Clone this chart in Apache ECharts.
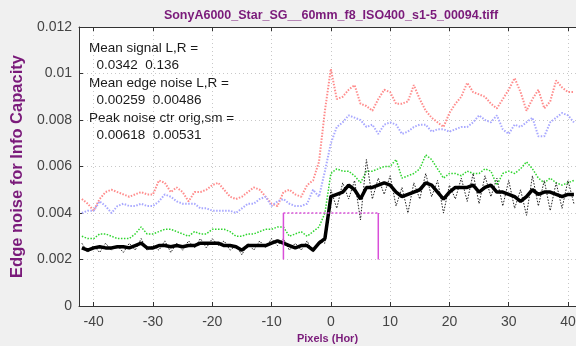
<!DOCTYPE html>
<html>
<head>
<meta charset="utf-8">
<script src="https://cdn.jsdelivr.net/npm/echarts@6/dist/echarts.min.js"></script>
<style>
  html, body { margin: 0; padding: 0; background: #f0f0f0; }
  #chart { width: 576px; height: 346px; }
</style>
</head>
<body>
<div id="chart"></div>
<script>
// pixel positions: one sample per pixel, starting at -42
const pixelStart = -42
const pixelStep = 1

const xTicks = [-40, -30, -20, -10, 0, 10, 20, 30, 40]

// upper (light red) noise curve
const redNoise = [
  0.0046, 0.0044, 0.0041, 0.0046, 0.0049, 0.0050, 0.0049, 0.0048, 0.0047, 0.0048,
  0.0049, 0.0048, 0.0048, 0.0054, 0.0053, 0.0049, 0.0051, 0.0049, 0.0045, 0.0049,
  0.0049, 0.0050, 0.0052, 0.0053, 0.0050, 0.0047, 0.0046, 0.0047, 0.0049, 0.0051,
  0.0050, 0.0047, 0.0044, 0.0043, 0.0049, 0.0050, 0.0048, 0.0047, 0.0052, 0.0054,
  0.0062, 0.0084, 0.0102, 0.0089, 0.0090, 0.0093, 0.0095, 0.0087, 0.0086, 0.0084,
  0.0089, 0.0093, 0.0092, 0.0087, 0.0087, 0.0088, 0.0095, 0.0089, 0.0084, 0.0081,
  0.0079, 0.0077, 0.0083, 0.0087, 0.0090, 0.0096, 0.0092, 0.0091, 0.0090, 0.0087,
  0.0085, 0.0089, 0.0093, 0.0098, 0.0092, 0.0084, 0.0089, 0.0093, 0.0085, 0.0088,
  0.0097, 0.0094, 0.0092, 0.0092
]

// light blue noise curve
const blueNoise = [
  0.0040, 0.0041, 0.0041, 0.0045, 0.0043, 0.0040, 0.0043, 0.0044, 0.0043, 0.0043,
  0.0044, 0.0043, 0.0043, 0.0045, 0.0048, 0.0047, 0.0045, 0.0044, 0.0044, 0.0044,
  0.0042, 0.0042, 0.0041, 0.0041, 0.0041, 0.0041, 0.0040, 0.0042, 0.0044, 0.0044,
  0.0046, 0.0047, 0.0043, 0.0045, 0.0046, 0.0044, 0.0043, 0.0043, 0.0044, 0.0050,
  0.0047, 0.0058, 0.0070, 0.0077, 0.0079, 0.0082, 0.0081, 0.0080, 0.0077, 0.0078,
  0.0074, 0.0078, 0.0079, 0.0078, 0.0074, 0.0075, 0.0077, 0.0078, 0.0078, 0.0075,
  0.0076, 0.0076, 0.0075, 0.0076, 0.0077, 0.0077, 0.0079, 0.0082, 0.0080, 0.0079,
  0.0082, 0.0076, 0.0074, 0.0078, 0.0077, 0.0079, 0.0081, 0.0073, 0.0073, 0.0079,
  0.0081, 0.0083, 0.0082, 0.0079
]

// green noise curve
const greenNoise = [
  0.0030, 0.0029, 0.0029, 0.0031, 0.0031, 0.0030, 0.0029, 0.0029, 0.0029, 0.0031,
  0.0034, 0.0031, 0.0031, 0.0032, 0.0033, 0.0033, 0.0032, 0.0031, 0.0030, 0.0032,
  0.0031, 0.0031, 0.0033, 0.0033, 0.0033, 0.0032, 0.0030, 0.0030, 0.0031, 0.0031,
  0.0032, 0.0033, 0.0033, 0.0034, 0.0034, 0.0030, 0.0031, 0.0032, 0.0030, 0.0032,
  0.0034, 0.0040, 0.0057, 0.0059, 0.0058, 0.0058, 0.0056, 0.0053, 0.0058, 0.0058,
  0.0059, 0.0060, 0.0060, 0.0063, 0.0055, 0.0056, 0.0057, 0.0059, 0.0065, 0.0063,
  0.0059, 0.0055, 0.0057, 0.0057, 0.0056, 0.0058, 0.0057, 0.0057, 0.0059, 0.0058,
  0.0052, 0.0057, 0.0058, 0.0057, 0.0059, 0.0062, 0.0059, 0.0055, 0.0053, 0.0055,
  0.0053, 0.0052, 0.0053, 0.0054
]

// raw edge noise (thin black dotted)
const rawNoise = [
  0.0027, 0.0023, 0.0026, 0.0023, 0.0027, 0.0024, 0.0026, 0.0023, 0.0027, 0.0024,
  0.0029, 0.0024, 0.0026, 0.0024, 0.0028, 0.0023, 0.0027, 0.0024, 0.0028, 0.0025,
  0.0029, 0.0025, 0.0029, 0.0026, 0.0028, 0.0024, 0.0026, 0.0022, 0.0027, 0.0024,
  0.0028, 0.0025, 0.0029, 0.0026, 0.0029, 0.0024, 0.0027, 0.0024, 0.0028, 0.0023,
  0.0028, 0.0027, 0.0050, 0.0042, 0.0053, 0.0046, 0.0054, 0.0037, 0.0063, 0.0046,
  0.0055, 0.0048, 0.0056, 0.0043, 0.0051, 0.0040, 0.0053, 0.0046, 0.0057, 0.0047,
  0.0054, 0.0040, 0.0052, 0.0046, 0.0055, 0.0045, 0.0057, 0.0044, 0.0056, 0.0047,
  0.0055, 0.0043, 0.0054, 0.0042, 0.0050, 0.0039, 0.0056, 0.0043, 0.0054, 0.0041,
  0.0053, 0.0042, 0.0054, 0.0044
]

// smoothed edge noise (thick black)
const smoothNoise = [
  0.0025, 0.0024, 0.0025, 0.00255, 0.0025, 0.0025, 0.00255, 0.00255, 0.0025, 0.0026,
  0.0027, 0.0025, 0.0025, 0.0026, 0.0026, 0.00255, 0.0026, 0.00255, 0.0026, 0.0026,
  0.0027, 0.0027, 0.0027, 0.0027, 0.0026, 0.0026, 0.00255, 0.0024, 0.0026, 0.0026,
  0.0026, 0.0026, 0.0027, 0.0028, 0.0027, 0.0026, 0.0025, 0.0026, 0.0026, 0.0024,
  0.0027, 0.0029, 0.0047, 0.0048, 0.0049, 0.0052, 0.0050, 0.0046, 0.0051, 0.0051,
  0.0052, 0.0053, 0.0052, 0.0049, 0.0047, 0.0048, 0.0049, 0.0050, 0.0053, 0.0052,
  0.0049, 0.0046, 0.0049, 0.0051, 0.0051, 0.0051, 0.0052, 0.0049, 0.0051, 0.0052,
  0.0049, 0.0049, 0.0048, 0.0047, 0.0045, 0.0047, 0.0050, 0.0048, 0.0049, 0.0049,
  0.0048, 0.0047, 0.0048, 0.0048
]

// magenta marker box (pixels, noise level)
const boxEdges = [-8, 8]
const boxLevels = [0.002, 0.004]

const statLines = [
  'Mean signal L,R =',
  '  0.0342  0.136',
  'Mean edge noise L,R =',
  '  0.00259  0.00486',
  'Peak noise ctr orig,sm =',
  '  0.00618  0.00531'
]

const titleText = 'SonyA6000_Star_SG__60mm_f8_ISO400_s1-5_00094.tiff'

const FONT = '"Liberation Sans", Arial, Helvetica, sans-serif'
const PURPLE = '#7a1a7a'

const toPoints = values => values.map((v, i) => [pixelStart + i * pixelStep, v])

const chart = echarts.init(document.getElementById('chart'))

const dottedSeries = (name, values, color, width) => ({
  name,
  type: 'line',
  data: toPoints(values),
  showSymbol: false,
  silent: true,
  lineStyle: { color, width, type: [1.5, 1.5] }
})

const option = {
  backgroundColor: '#f0f0f0',
  animation: false,
  grid: {
    left: 79,
    right: 0,
    top: 27,
    bottom: 40,
    outerBoundsMode: 'none',
    containLabel: false,
    show: true,
    backgroundColor: '#ffffff',
    borderWidth: 0
  },
  xAxis: [
    {
      type: 'value',
      min: -42.48,
      max: 41.35,
      name: 'Pixels (Hor)',
      nameLocation: 'middle',
      nameGap: 27,
      nameTextStyle: { fontFamily: FONT, fontSize: 11, fontWeight: 'bold', color: PURPLE },
      axisLine: { onZero: false, lineStyle: { color: '#333', width: 1 } },
      axisTick: { inside: true, length: 4, customValues: xTicks, lineStyle: { color: '#333' } },
      axisLabel: {
        customValues: xTicks,
        fontFamily: FONT,
        fontSize: 14,
        color: '#444',
        margin: 9
      },
      splitLine: { show: true, lineStyle: { color: '#c8c8c8', type: [1, 3] } }
    },
    {
      type: 'value',
      position: 'top',
      min: -42.48,
      max: 41.35,
      axisLine: { onZero: false, lineStyle: { color: '#333', width: 1 } },
      axisTick: { inside: true, length: 4, customValues: xTicks, lineStyle: { color: '#333' } },
      axisLabel: { show: false },
      splitLine: { show: false }
    }
  ],
  yAxis: {
    type: 'value',
    min: 0,
    max: 0.012,
    interval: 0.002,
    name: 'Edge noise for Info Capacity',
    nameLocation: 'middle',
    nameGap: 53,
    nameTextStyle: { fontFamily: FONT, fontSize: 16.5, fontWeight: 'bold', color: PURPLE },
    axisLine: { show: true, onZero: false, lineStyle: { color: '#333', width: 1 } },
    axisTick: { show: true, inside: true, length: 4, lineStyle: { color: '#333' } },
    axisLabel: { fontFamily: FONT, fontSize: 14, color: '#444', margin: 7 },
    splitLine: { show: true, lineStyle: { color: '#c8c8c8', type: [1, 3] } }
  },
  series: [
    dottedSeries('red', redNoise, '#ff8c8c', 2),
    dottedSeries('blue', blueNoise, '#a8a8ff', 2),
    dottedSeries('green', greenNoise, '#2ed52e', 1.5),
    dottedSeries('raw', rawNoise, '#222222', 1),
    {
      name: 'smooth',
      type: 'line',
      data: toPoints(smoothNoise),
      showSymbol: false,
      silent: true,
      lineStyle: { color: '#000', width: 3.5 }
    },
    {
      name: 'box top',
      type: 'line',
      data: boxEdges.map(x => [x, boxLevels[1]]),
      showSymbol: false,
      silent: true,
      lineStyle: { color: '#d94fd9', width: 1.5, type: [2, 2] }
    },
    ...boxEdges.map(x => ({
      name: 'box side',
      type: 'line',
      data: boxLevels.map(y => [x, y]),
      showSymbol: false,
      silent: true,
      lineStyle: { color: '#d94fd9', width: 1.5 }
    }))
  ],
  graphic: [
    {
      type: 'text',
      x: 331,
      y: 16,
      silent: true,
      style: {
        text: titleText,
        fontFamily: FONT,
        fontSize: 12.5,
        fontWeight: 'bold',
        fill: PURPLE,
        align: 'center',
        verticalAlign: 'middle'
      }
    },
    ...statLines.map((line, i) => ({
      type: 'text',
      left: 89,
      top: 41 + i * 17.5,
      silent: true,
      style: {
        text: line,
        fontFamily: FONT,
        fontSize: 13.5,
        fill: '#1a1a1a'
      }
    }))
  ]
}

chart.setOption(option)
</script>
</body>
</html>
